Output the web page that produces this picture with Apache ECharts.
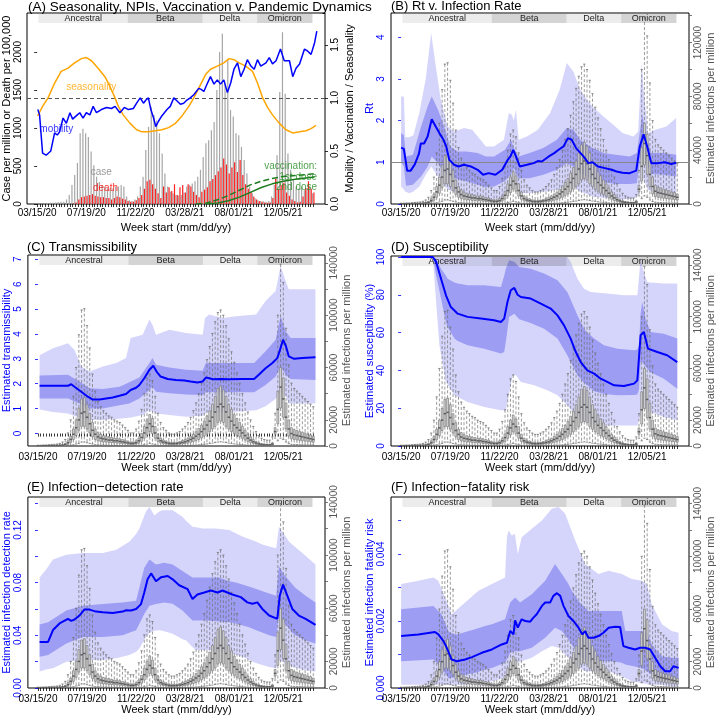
<!DOCTYPE html>
<html><head><meta charset="utf-8">
<script src="https://cdn.jsdelivr.net/npm/echarts@6/dist/echarts.min.js"></script>
<style>html,body{margin:0;padding:0;background:#fff}#c{width:717px;height:717px}</style>
</head><body><div id="c"></div>
<script>
const FONT = "'Liberation Sans', Arial, Helvetica, sans-serif";
const BLUE = '#0000ff';

// ---- x axis (weeks since 03/15/20) ----
const weeks = Array.from({length: 102}, (_, i) => i);
const tickWeeks = [0, 18, 36, 54, 72, 90];
const tickLabels = ['03/15/20', '07/19/20', '11/22/20', '03/28/21', '08/01/21', '12/05/21'];

// ---- variant periods ----
const variantNames = ['Ancestral', 'Beta', 'Delta', 'Omicron'];
const variantStart = [0.5, 33.2, 60.5, 80.5];
const variantEnd = [33.2, 60.5, 80.5, 100.7];

// ---- Panel A ----
const caseA = [5,8,10,10,12,15,18,20,25,30,
  30,60,120,250,380,540,930,990,930,880,
  690,510,360,290,250,230,205,215,205,230,
  230,250,230,100,50,40,60,100,230,360,
  710,1015,1280,1170,1100,930,665,400,230,160,
  140,120,110,120,150,230,250,270,300,360,
  450,620,800,840,970,1080,1500,2000,2240,1585,
  1890,1235,1150,930,905,750,580,400,230,140,
  75,50,40,35,30,40,100,250,640,1475,
  2260,1450,665,450,315,230,205,230,180,205,230,140];
const deathA = [0,0,0,0,0,0,0,0,0,0,
  0,0,0,5,20,60,90,100,110,120,
  130,110,100,90,90,80,80,60,80,100,
  90,70,60,40,30,30,50,80,120,200,
  300,320,260,200,140,80,230,150,220,170,
  260,120,220,250,150,260,230,160,120,90,
  160,190,220,300,330,380,430,480,600,520,
  400,480,550,420,580,380,260,200,160,100,
  60,40,30,20,15,20,80,330,200,250,
  280,150,110,60,40,20,30,100,210,300,200,150];
const mobility = [[0.25,0.89],[0.9,0.84],[2,0.48],[3.3,0.46],[5,0.5],[6.4,0.67],[7.4,0.65],[8.2,0.68],[9.5,0.81],[10.7,0.76],[12,0.86],[13,0.8],[14.7,0.84],[15.6,0.86],[16.8,0.81],[18,0.86],[19.3,0.84],[20.5,0.92],[21.7,0.86],[23.5,0.89],[25.4,0.91],[27.2,0.9],[28.5,0.92],[30.3,0.86],[31.9,0.91],[33.4,0.89],[35.2,0.9],[36.4,0.95],[37.7,1.0],[38.9,0.95],[39.8,0.98],[40.7,1.0],[41.6,0.89],[42.6,0.81],[43.4,0.73],[44.4,0.78],[45.6,0.83],[47.5,0.89],[48.7,0.92],[50,1.0],[51.2,0.97],[52.4,0.94],[53.6,0.95],[54.8,0.98],[56,1.0],[57.3,1.03],[59.1,1.09],[60,1.08],[61,1.06],[61.8,1.11],[63.4,1.2],[64.7,1.13],[65.9,1.17],[67.1,1.13],[68.3,1.17],[69.6,1.05],[70.8,1.14],[72,1.27],[73.3,1.33],[74.5,1.2],[75.7,1.27],[76.9,1.36],[78.2,1.3],[79.4,1.27],[80.6,1.36],[81.8,1.3],[83.7,1.33],[84.9,1.38],[86.1,1.32],[87.4,1.35],[89,1.46],[90.4,1.35],[92.3,1.35],[93.5,1.2],[94.7,1.28],[96,1.32],[97.8,1.46],[99,1.44],[100.2,1.41],[101.5,1.52],[102.3,1.63]];
const seasonality = [[0.2,0.83],[2,0.92],[4,1.0],[6.4,1.14],[8.8,1.25],[11.3,1.28],[13.7,1.33],[16.2,1.37],[18,1.38],[19.9,1.35],[22.3,1.28],[24.8,1.2],[26.6,1.11],[28.5,1.0],[29.7,0.92],[31.5,0.84],[34,0.76],[36.4,0.7],[38.3,0.68],[40.7,0.68],[43.2,0.69],[45.6,0.7],[48.1,0.72],[50.6,0.76],[53,0.83],[55.5,0.92],[57.3,1.0],[59.1,1.09],[61.6,1.22],[63.4,1.27],[65.9,1.3],[68.3,1.33],[70.2,1.37],[72,1.36],[73.9,1.33],[76.3,1.3],[78.8,1.25],[80.6,1.14],[82.5,1.0],[84.3,0.91],[86.1,0.84],[88.6,0.76],[91,0.7],[93.5,0.67],[96,0.68],[98.4,0.69],[100.2,0.71],[102,0.74]];
const vacDose1 = [[58,0],[62,0.01],[66,0.04],[70,0.08],[74,0.13],[78,0.18],[82,0.215],[86,0.24],[90,0.26],[95,0.27],[101.5,0.285]];
const vacDose2 = [[62,0],[66,0.01],[70,0.03],[74,0.065],[78,0.11],[82,0.155],[86,0.19],[90,0.215],[95,0.235],[101.5,0.255]];

// ---- estimated infections per million (thousands): boxplot stats per week ----
const infLo = [0,0,0,0,0,0,0,0,0,0.1, 0.1,0.2,0.5,1,1.5,2,3,3,2.5,2, 1.5,1,1,0.8,0.7,0.6,0.5,0.5,0.5,0.5, 0.4,0.4,0.3,0.3,0.2,0.2,0.3,0.4,0.7,1, 1.5,2,1.5,1,0.6,0.4,0.3,0.3,0.2,0.2, 0.2,0.2,0.3,0.3,0.3,0.4,0.5,0.6,0.8,0.9, 1.1,1.3,1.6,2,2.2,2.6,3,3.2,3,2.6, 2.2,2,1.6,1.4,1.2,1,0.8,0.6,0.5,0.3, 0.2,0.2,0.1,0.1,0.1,0.1,0.1,6,4,6, 5,3,1.8,1.3,1.2,1.1,1,1,0.9,0.8,0.8,0.7];
const infQ1 = [0.05,0.05,0.1,0.1,0.1,0.1,0.2,0.2,0.3,0.4, 0.6,1.3,2.8,5,8,12,15,15,13,10, 7,5,4,3.5,3,3,2.6,2.6,2.3,2.3, 2,1.8,1.6,1.3,1.1,1.1,1.4,2.2,3.6,6, 8.5,11,9.5,6,3.5,2.3,1.7,1.4,1.1,1, 1,1.1,1.3,1.5,1.8,2.2,2.8,3.4,4.2,5, 6.2,7.5,9,11,13,15,18,19,18,15, 13,11,9.5,8,7,5.8,4.6,3.5,2.6,1.8, 1.3,0.9,0.7,0.6,0.5,0.5,0.8,9,17,29, 22,13,7.5,5.5,5,4.6,4.3,4,3.7,3.5,3.2,2.9];
const infMed = [0.1,0.1,0.2,0.2,0.2,0.3,0.3,0.4,0.5,0.7, 1.2,2.5,5,9,14,20,25,26,22,17, 12,9,7,6,5.5,5,4.5,4.5,4,4, 3.5,3.2,2.8,2.3,2,2,2.5,4,6.5,10, 14,17,15,10,6,4,3,2.5,2,1.8, 1.8,2,2.3,2.7,3.2,4,5,6,7.5,9, 11,13,16,19,22,26,30,32,30,26, 22,19,16,14,12,10,8,6,4.5,3.2, 2.3,1.6,1.2,1,0.9,0.9,1.5,11,28,45, 36,22,13,9.5,8.5,8,7.5,7,6.5,6,5.5,5];
const infQ3 = [0.2,0.2,0.3,0.3,0.4,0.5,0.5,0.6,0.8,1.1, 1.9,4,7.5,13,20,29,36,37,32,25, 18,13,10.5,9,8,7.5,7,6.5,6,6, 5.5,5,4.5,3.6,3.2,3.2,4,6,9.5,15, 20,24,21,15,9,6,4.6,3.8,3.2,2.8, 2.8,3,3.5,4.2,5,6,7.5,9,11,13.5, 16,19,23,27,32,38,44,46,43,38, 32,28,24,21,18,15,12,9,7,5, 3.6,2.5,1.9,1.6,1.4,1.4,2.4,14,42,60, 52,33,20,14,12.5,12,11,10.5,10,9,8.5,7.5];
const infHi = [0.6,0.6,0.8,0.8,1,1.2,1.3,1.5,2,3, 5,10,20,38,60,85,104,105,92,75, 55,42,34,30,27,25,23,22,20,19, 18,16,14,12,10,10,13,19,28,40, 52,55,50,38,25,18,14,12,10,9, 9,10,11,13,15,18,22,27,33,40, 48,56,66,76,86,95,102,104,100,92, 82,72,64,56,48,40,33,26,20,15, 11,8,6,5,4.5,4.5,7,25,100,139, 125,90,62,48,44,42,40,38,36,34,32,30];

// ---- Panel B: Rt ----
const rtMed = [[0,1.35],[1,1.32],[2.2,0.8],[3.5,0.8],[5,0.95],[6.5,1.2],[7.2,1.45],[8.4,1.45],[9.7,1.62],[11.2,2.03],[12.7,1.85],[14,1.7],[15.5,1.54],[16.5,1.38],[17.6,1.06],[19.4,0.94],[21,0.9],[23,0.94],[25.5,0.9],[28,0.82],[30,0.7],[32,0.74],[34.5,0.7],[37,0.82],[39,1.06],[40,1.14],[41,1.3],[42,1.14],[43.4,0.9],[46,0.94],[48.5,0.98],[50,1.03],[51.5,1.02],[54,1.14],[56,1.22],[57.6,1.3],[59.4,1.38],[61,1.58],[62.4,1.54],[64,1.34],[66.7,1.14],[68.5,0.98],[70,1.0],[72,0.9],[74.5,0.86],[77,0.82],[78.8,0.78],[81,0.75],[83.6,0.74],[86,0.8],[87.3,1.38],[88.7,1.67],[90,1.38],[91.5,0.98],[94,0.98],[96.5,1.0],[98.8,0.96],[100.6,0.99]];
const rt95 = [[0,0.42,2.58],[1,0.35,2.58],[1.5,0.3,1.6],[3,0.26,1.6],[4.5,0.3,1.65],[6.7,0.42,2.2],[9,0.7,3.0],[11,0.9,4.1],[12.7,0.74,3.3],[14.5,0.55,2.5],[17,0.35,1.86],[19.4,0.28,1.74],[23,0.18,1.82],[26,0.14,1.78],[29,0.1,1.54],[31,0.1,1.38],[34,0.1,1.38],[37.6,0.14,1.54],[39.4,0.3,2.18],[40.5,0.38,2.14],[41.2,0.44,2.0],[42,0.46,2.26],[43,0.26,1.54],[46,0.26,1.62],[50,0.28,1.78],[54.5,0.31,2.18],[58,0.36,2.74],[60.6,0.46,3.38],[63,0.42,3.18],[65.5,0.3,2.74],[68,0.24,2.5],[70,0.18,2.34],[74,0.15,2.1],[77.6,0.13,1.9],[81,0.11,1.7],[85,0.13,1.62],[86.7,0.2,1.74],[88,0.66,3.38],[88.7,0.6,2.74],[90.3,0.34,1.7],[93,0.24,1.78],[97,0.2,1.86],[100.6,0.18,2.06]];
const rt50 = [[0,1.0,1.7],[1,0.9,1.65],[1.8,0.44,1.14],[4.3,0.46,1.18],[7.3,0.66,1.86],[9.7,0.9,2.34],[11.2,1.14,2.58],[13.5,0.98,2.26],[15.7,0.74,1.86],[18,0.66,1.38],[20.5,0.6,1.26],[24,0.54,1.26],[28,0.46,1.22],[31,0.4,1.14],[34,0.42,1.14],[38,0.55,1.3],[40.2,0.72,1.54],[41.2,0.86,1.34],[43,0.62,1.14],[47,0.62,1.22],[52,0.7,1.34],[57,0.82,1.54],[60.6,0.98,1.82],[63,0.9,1.78],[65.5,0.74,1.54],[69,0.62,1.38],[74,0.52,1.22],[78.5,0.48,1.18],[83.6,0.48,1.14],[86.2,0.5,1.22],[88.2,1.38,2.14],[89.5,1.0,1.7],[91.5,0.72,1.22],[96,0.7,1.22],[100.6,0.66,1.18]];

// ---- Panel C: transmissibility ----
const trMed = [[0.6,1.92],[11,1.92],[12.2,1.98],[13.4,1.88],[15.9,1.68],[18.3,1.48],[20,1.37],[22.6,1.37],[25,1.41],[27.4,1.45],[29.9,1.52],[32.3,1.59],[34,1.75],[36,1.84],[37.2,1.95],[39,2.22],[40.9,2.56],[42.3,2.72],[43.5,2.49],[45,2.29],[47.6,2.19],[50.6,2.15],[53.7,2.13],[56,2.09],[58.5,2.05],[60.4,2.09],[61.6,2.25],[62.8,2.22],[64.3,2.18],[67,2.19],[70,2.18],[75,2.19],[79.3,2.19],[81,2.36],[83.5,2.62],[86,2.83],[87.8,3.03],[88.8,3.36],[89.9,3.77],[91,3.5],[92,3.1],[94,3.0],[97,3.03],[101.8,3.06]];
const tr95 = [[0.6,0.97,3.14],[5.5,0.87,3.43],[11,0.81,3.63],[13.4,0.7,3.36],[15.9,0.6,2.69],[18.9,0.54,2.49],[23.8,0.54,2.69],[28.7,0.58,2.83],[32.3,0.62,3.03],[34,0.64,3.84],[38.4,0.74,3.97],[40.9,0.94,4.58],[42,0.9,4.37],[43.3,0.81,3.97],[48.2,0.74,4.17],[54.3,0.67,4.04],[60.4,0.71,3.97],[61.3,0.8,4.64],[62.8,0.85,4.78],[67.7,0.86,4.64],[72.6,0.88,4.71],[80,0.94,4.78],[83.5,1.1,5.32],[87.2,1.4,5.72],[89,1.68,6.73],[90.9,1.5,6.12],[92,1.21,5.79],[97,1.21,5.79],[101.8,1.21,5.79]];
const tr50 = [[0.6,1.41,2.33],[11,1.41,2.36],[15.2,1.21,2.09],[18.9,1.01,1.82],[23.8,1.01,1.79],[29.9,1.14,1.88],[33.5,1.21,2.06],[37.2,1.41,2.25],[40.9,1.75,2.83],[42,1.88,3.03],[43.3,1.68,2.76],[48.2,1.62,2.65],[54.3,1.57,2.56],[60.4,1.55,2.52],[61.6,1.66,2.83],[70,1.66,2.83],[79.3,1.66,2.83],[83.5,1.95,3.3],[87.2,2.29,3.77],[89,2.69,4.71],[90.9,2.36,4.1],[92.7,2.19,3.84],[101.8,2.15,3.84]];

// ---- Panel D: susceptibility ----
const suMed = [[0,100],[11.6,100],[12.8,97.4],[14.6,88.5],[16.4,79.7],[18.2,73.5],[20.7,70],[24.3,68.3],[29.2,67.4],[34,66.5],[36.5,65.6],[37.7,67.4],[38.9,76.2],[40.1,82.4],[41.4,83.6],[42.6,80],[43.8,78.8],[47.4,78],[51.1,75.3],[54.7,72.7],[57.2,69.1],[59.6,63.8],[62,56.8],[63.9,49.7],[65.7,44.4],[68.1,40],[70.6,38.3],[73,35.6],[75.4,33.9],[77.9,32.1],[81.5,31.7],[85.2,33],[86.4,34.7],[87.6,58.6],[88.8,60.3],[90.3,51.5],[93.7,49.7],[97.3,48],[101,44.4]];
const su95 = [[0,100,100],[11.6,100,100],[12.8,76.2,100],[14,53.3,100],[16.4,33.9,100],[19.5,26.8,100],[24.3,23.3,100],[30.4,20.6,100],[36.5,18.9,100],[38.3,18.9,100],[40.8,37.4,100],[42,37.4,100],[43.8,33.9,100],[48.7,32.1,100],[53.5,29.5,100],[57.2,26.8,100],[60.8,21.5,100],[62,19.5,97.4],[64.5,15.3,88.5],[66.9,13,83.2],[69.3,11.8,81.5],[75.4,10.9,80.6],[81.5,10.9,79.7],[86.4,10.9,79.7],[87.6,16.2,99],[88.8,20.6,92],[90,19,86.8],[91.2,18,86.5],[96.1,15.3,86],[101,13.6,85.9]];
const su50 = [[0,100,100],[11.6,100,100],[12.8,90.3,99],[14.6,78,93.8],[16.4,65.6,90],[17,63,88.5],[19.5,56.8,86.5],[20.7,55.5,85.9],[24.3,53.3,85],[30.4,51.5,85],[36.5,48.9,84.1],[37.7,49.7,90],[38.3,55,93.8],[39.5,68.3,98.2],[41.4,70,97.4],[43.2,67,94.7],[47.4,65,93.8],[52.3,62,91.2],[57.2,56.8,87.7],[60.8,48,81.5],[64.5,37.4,69.1],[66.9,33.5,62.1],[68.1,32.1,60],[70.6,29,56.8],[74.2,27.5,53.3],[79.1,26.8,51.5],[85.2,27,50.6],[86.4,27.2,51],[87,30,53.3],[87.6,44.4,70],[88.2,44.4,76.2],[89.4,42,67.4],[91.2,39,60.3],[96.1,35.6,59.4],[101,30.3,56.8]];

// ---- Panel E: infection-detection rate ----
const idMed = [[0.6,0.035],[3.7,0.035],[5.5,0.044],[7.9,0.049],[11,0.0525],[12.2,0.051],[13.4,0.052],[15.2,0.055],[17,0.0595],[18.9,0.0595],[21.3,0.058],[23.8,0.0575],[27.4,0.057],[31.1,0.058],[32.3,0.059],[34.1,0.0588],[36,0.06],[37.8,0.0637],[39,0.0725],[40.2,0.0825],[41.5,0.087],[43.3,0.081],[45.1,0.084],[47.6,0.085],[49.4,0.0825],[51.8,0.078],[54.9,0.075],[56.7,0.0675],[58.5,0.071],[61,0.0725],[63.4,0.074],[65.9,0.0725],[67.7,0.074],[71.3,0.071],[74.4,0.069],[76.8,0.065],[78.7,0.064],[80.5,0.065],[82.3,0.06],[84.8,0.055],[87.8,0.0525],[88.7,0.07],[89.9,0.0785],[91.5,0.07],[93.3,0.06],[95.7,0.055],[98.2,0.0525],[101.8,0.048]];
const id95 = [[0.6,0.0125,0.0838],[3,0.014,0.09],[5.5,0.015,0.0975],[10.4,0.02,0.1012],[16.5,0.0212,0.1025],[23.8,0.0212,0.1025],[28.7,0.0225,0.105],[33.5,0.025,0.111],[36,0.0275,0.117],[37.2,0.03,0.121],[39.6,0.0388,0.134],[40.9,0.042,0.1375],[42.7,0.0435,0.131],[44.5,0.0438,0.134],[45.7,0.0435,0.135],[49.4,0.0412,0.135],[53,0.037,0.13],[54.3,0.0362,0.127],[56.7,0.031,0.1225],[58,0.0288,0.122],[60.4,0.0288,0.121],[65.2,0.028,0.121],[67.7,0.0275,0.1205],[70.1,0.027,0.12],[75,0.0238,0.115],[79.9,0.019,0.1112],[82.3,0.0175,0.109],[84.8,0.016,0.1075],[87.4,0.015,0.106],[88.4,0.021,0.1225],[89.6,0.02,0.1187],[90.9,0.0188,0.115],[92.1,0.017,0.111],[97,0.0138,0.1025],[101.8,0.0125,0.0938]];
const id50 = [[0.6,0.0238,0.0482],[3.7,0.025,0.05],[10.4,0.0338,0.0588],[16.5,0.0388,0.0625],[23.8,0.0388,0.0637],[31,0.04,0.065],[36,0.0438,0.0662],[39,0.0562,0.0912],[40.9,0.0625,0.0975],[43.3,0.0637,0.0938],[46.3,0.065,0.095],[49.4,0.064,0.0938],[53,0.0588,0.0888],[56.7,0.0512,0.0838],[61.6,0.0512,0.0838],[66.5,0.0505,0.0838],[70.1,0.05,0.081],[72.6,0.049,0.08],[77.4,0.0462,0.077],[78.7,0.045,0.0762],[84.8,0.04,0.0718],[87.4,0.0388,0.07],[88.4,0.055,0.0925],[90.2,0.05,0.0862],[93.3,0.042,0.0788],[94.5,0.04,0.076],[98.2,0.036,0.07],[101.8,0.0338,0.065]];

// ---- Panel F: infection-fatality risk ----
const ifMed = [[0,0.00155],[6.3,0.0016],[12.4,0.00167],[13.6,0.0016],[15.5,0.0014],[16.7,0.0012],[18.5,0.00085],[20.4,0.0008],[23.4,0.00085],[25.9,0.00092],[29.5,0.00105],[33.2,0.00115],[36.8,0.0013],[38.7,0.00135],[39.9,0.0017],[41.1,0.0016],[41.7,0.00202],[42.7,0.0018],[43.5,0.00195],[44.1,0.00205],[45.4,0.002],[47.2,0.00198],[48.4,0.0021],[49.6,0.0022],[51.5,0.00245],[52.7,0.00255],[54.5,0.00255],[55.7,0.00275],[57,0.00283],[58.2,0.00275],[59.4,0.00245],[61.2,0.00215],[63,0.002],[64.9,0.0018],[66.3,0.0016],[67.3,0.0017],[68.5,0.0015],[70.4,0.0015],[72.2,0.00155],[74,0.00165],[75.9,0.0018],[78.3,0.00183],[80.1,0.00182],[81.3,0.00125],[83.2,0.0012],[85.6,0.00115],[87.4,0.0012],[89.3,0.0012],[91.1,0.00115],[92.9,0.0009],[94.8,0.00065],[96.6,0.0005],[98.4,0.0005],[99.6,0.00065],[101.5,0.0006]];
const if95 = [[0,0.0001,0.0031],[6.3,0.0001,0.0032],[11.8,0.0001,0.0033],[13.6,0.0001,0.0032],[16.1,0.0001,0.0027],[18.5,0.0001,0.0022],[23.4,0.0001,0.00255],[28.3,0.00015,0.0029],[33.2,0.0002,0.0031],[38,0.0003,0.0033],[38.7,0.0004,0.0045],[39.3,0.0005,0.0047],[40.5,0.0009,0.00455],[41.6,0.0008,0.0046],[42.7,0.00075,0.004],[44.1,0.0008,0.0045],[47.8,0.0009,0.00475],[51.5,0.0011,0.005],[55.1,0.00125,0.00535],[57.6,0.0012,0.0054],[60,0.001,0.0052],[63.7,0.0007,0.0044],[67.3,0.0005,0.0037],[72.2,0.0005,0.0034],[75.9,0.0005,0.0035],[80.7,0.00035,0.0034],[84.4,0.0002,0.00325],[88,0.00015,0.0032],[89.9,0.00012,0.0031],[91.7,0.0001,0.0025],[95.4,0.0001,0.0019],[99,0.00005,0.0017],[101.5,0.00005,0.00165]];
const if50 = [[0,0.0008,0.00235],[11.8,0.00085,0.00245],[14.8,0.0006,0.0022],[17.3,0.0003,0.0017],[17.9,0.0003,0.00165],[20.4,0.00035,0.0016],[27,0.00045,0.00175],[30.7,0.00055,0.00185],[33.2,0.0006,0.0019],[38,0.00075,0.00205],[39.9,0.00105,0.00255],[41.7,0.0011,0.0027],[43.5,0.0011,0.00255],[47.8,0.0012,0.0028],[52.7,0.0015,0.0032],[56.3,0.0018,0.0037],[58.8,0.0017,0.0034],[61.2,0.00145,0.0031],[62.4,0.0013,0.0029],[64.9,0.001,0.0026],[66,0.0009,0.0025],[68.5,0.0008,0.0023],[77.1,0.0008,0.0023],[80.7,0.00075,0.0023],[82,0.0007,0.0017],[88,0.0006,0.0017],[89.9,0.0005,0.00165],[91.7,0.0004,0.0013],[95.4,0.0002,0.00095],[99,0.00025,0.0009],[101.5,0.00025,0.0009]];

// ---- axis tick values ----
const rightTicks = [0,20000,40000,60000,80000,100000,120000,140000];
const rightLabelsB = [0,40000,80000,120000];
const rightLabelsCF = [0,20000,60000,100000,140000];

// ================= layout / building =================
const grids = [
  {left:27, top:13, width:298, height:191},
  {left:391, top:13, width:298, height:191},
  {left:27, top:255, width:298, height:191},
  {left:391, top:256, width:298, height:190},
  {left:27, top:497, width:298, height:191},
  {left:391, top:497, width:298, height:191}
];
const LIGHT = '#d5d5fc', DARK = '#9d9df4';

function xAxisFor(i) {
  const row = Math.floor(i / 2);
  return {
    type: 'value', gridIndex: i, min: -3.7, max: 105.3,
    axisLine: {show: false}, splitLine: {show: false},
    axisTick: {show: true, customValues: weeks, length: 3, lineStyle: {color: '#000', width: 0.8}},
    axisLabel: {customValues: tickWeeks, fontSize: 10, color: '#000', fontFamily: FONT, margin: [4, 6, 6][row],
      formatter: v => { const k = tickWeeks.indexOf(Math.round(v)); return k >= 0 ? tickLabels[k] : ''; }},
    name: 'Week start (mm/dd/yy)', nameLocation: 'middle', nameGap: [18, 13, 16][row],
    nameTextStyle: {fontSize: 11, color: '#000', fontFamily: FONT}
  };
}
function yAxisFor(i, pos, c) {
  return {
    type: 'value', gridIndex: i, position: pos, min: c.min, max: c.max,
    axisLine: {show: false}, splitLine: {show: false},
    axisTick: {show: true, customValues: c.ticks, length: 3, lineStyle: {color: c.tick || '#000', width: 0.8}},
    axisLabel: {customValues: c.labels, rotate: 90, fontSize: 10, color: c.color, margin: c.margin, fontFamily: FONT,
      formatter: c.fmt || (v => String(v))},
    name: c.name, nameLocation: 'middle', nameRotate: 90, nameGap: c.gap,
    nameTextStyle: {fontSize: 11, color: c.color, fontFamily: FONT}
  };
}
const rightCfg = (max, labels) => ({min: 0, max, ticks: rightTicks, labels, color: '#555', tick: '#555',
  name: 'Estimated infections per million', margin: 4, gap: 16, fmt: v => String(Math.round(v))});
const yAxes = [
  yAxisFor(0, 'left', {min:0, max:2513, ticks:[0,500,1000,1500,2000], labels:[0,500,1000,1500,2000], color:'#000', name:'Case per million or Death per 100,000', margin:4, gap:14}),
  yAxisFor(0, 'right', {min:0, max:1.8, ticks:[0,0.5,1,1.5], labels:[0,0.5,1,1.5], color:'#000', name:'Mobility / Vaccination / Seasonality', margin:5, gap:19, fmt:v=>v.toFixed(1)}),
  yAxisFor(1, 'left', {min:0, max:4.58, ticks:[0,1,2,3,4], labels:[0,1,2,3,4], color:BLUE, tick:BLUE, name:'Rt', margin:5, gap:14}),
  yAxisFor(1, 'right', rightCfg(142000, rightLabelsB)),
  yAxisFor(2, 'left', {min:-0.5, max:7.17, ticks:[0,1,2,3,4,5,6,7], labels:[0,1,2,3,4,5,6,7], color:BLUE, tick:BLUE, name:'Estimated transmissibility', margin:5, gap:14}),
  yAxisFor(2, 'right', rightCfg(146000, rightLabelsCF)),
  yAxisFor(3, 'left', {min:0, max:100.5, ticks:[0,20,40,60,80,100], labels:[0,20,40,60,80,100], color:BLUE, tick:BLUE, name:'Estimated susceptibility (%)', margin:5, gap:14}),
  yAxisFor(3, 'right', rightCfg(147000, rightLabelsCF)),
  yAxisFor(4, 'left', {min:0, max:0.145, ticks:[0,0.02,0.04,0.06,0.08,0.1,0.12,0.14], labels:[0,0.04,0.08,0.12], color:BLUE, tick:BLUE, name:'Estimated infection detection rate', margin:5, gap:14, fmt:v=>v.toFixed(2)}),
  yAxisFor(4, 'right', rightCfg(143700, rightLabelsCF)),
  yAxisFor(5, 'left', {min:0, max:0.0057, ticks:[0,0.001,0.002,0.003,0.004,0.005], labels:[0,0.002,0.004], color:BLUE, tick:BLUE, name:'Estimated infection fatality risk', margin:5, gap:14, fmt:v=>v.toFixed(3)}),
  yAxisFor(5, 'right', rightCfg(145000, rightLabelsCF))
];

function variantSeries(i) {
  return {
    type: 'custom', xAxisIndex: i, yAxisIndex: 2 * i, silent: true, z: 4,
    data: variantNames.map((n, k) => [variantStart[k], variantEnd[k]]), encode: {x: [0, 1]},
    renderItem(params, api) {
      const x0 = api.coord([api.value(0), 0])[0], x1 = api.coord([api.value(1), 0])[0];
      const y = params.coordSys.y + 1, h = 9;
      const k = params.dataIndex;
      return {type: 'group', children: [
        {type: 'rect', shape: {x: x0, y, width: x1 - x0, height: h}, style: {fill: k % 2 ? 'rgba(60,60,60,0.22)' : 'rgba(120,120,120,0.14)'}},
        {type: 'text', style: {text: variantNames[k], x: (x0 + x1) / 2, y: y + h / 2 + 0.5, align: 'center', verticalAlign: 'middle', fontSize: 9, fill: '#222', fontFamily: FONT}}
      ]};
    }
  };
}
function bandSeries(i, pts, color, z) {
  return {
    type: 'custom', xAxisIndex: i, yAxisIndex: 2 * i, silent: true, z, clip: true,
    data: pts, encode: {x: 0, y: [1, 2]},
    renderItem(params, api) {
      if (params.dataIndex !== 0) return null;
      const up = pts.map(p => api.coord([p[0], p[2]]));
      const lo = pts.slice().reverse().map(p => api.coord([p[0], p[1]]));
      return {type: 'polygon', shape: {points: up.concat(lo)}, style: {fill: color}};
    }
  };
}
function boxSeries(i) {
  return {
    type: 'custom', xAxisIndex: i, yAxisIndex: 2 * i + 1, silent: true, z: 5, clip: true,
    data: weeks.map(w => [w, infLo[w] * 1000, infQ1[w] * 1000, infMed[w] * 1000, infQ3[w] * 1000, infHi[w] * 1000]),
    encode: {x: 0, y: [1, 2, 3, 4, 5]},
    renderItem(params, api) {
      const w = api.value(0);
      const x = api.coord([w, 0])[0];
      const yy = k => api.coord([w, api.value(k)])[1];
      const yLo = yy(1), yQ1 = yy(2), yMed = yy(3), yQ3 = yy(4), yHi = yy(5);
      const hb = 0.9, hc = 1.1;
      const dash = {stroke: '#707070', lineWidth: 0.7, lineDash: [3, 2]};
      const solid = {stroke: '#707070', lineWidth: 0.8};
      return {type: 'group', children: [
        {type: 'line', shape: {x1: x, y1: yHi, x2: x, y2: yQ3}, style: dash},
        {type: 'line', shape: {x1: x, y1: yQ1, x2: x, y2: yLo}, style: dash},
        {type: 'line', shape: {x1: x - hc, y1: yHi, x2: x + hc, y2: yHi}, style: solid},
        {type: 'line', shape: {x1: x - hc, y1: yLo, x2: x + hc, y2: yLo}, style: solid},
        {type: 'rect', shape: {x: x - hb, y: yQ3, width: 2 * hb, height: Math.max(yQ1 - yQ3, 0.5)}, style: {fill: '#dcdcdc', stroke: '#777', lineWidth: 0.7}},
        {type: 'line', shape: {x1: x - hb - 0.3, y1: yMed, x2: x + hb + 0.3, y2: yMed}, style: {stroke: '#5c5c5c', lineWidth: 1.5}}
      ]};
    }
  };
}
function medianSeries(i, pts, extra) {
  return Object.assign({
    type: 'line', xAxisIndex: i, yAxisIndex: 2 * i, data: pts, symbol: 'none', silent: true, z: 6,
    lineStyle: {color: BLUE, width: 2}
  }, extra || {});
}

const series = [];
for (let i = 0; i < 6; i++) series.push(variantSeries(i));

// Panel A
series.push({type: 'bar', xAxisIndex: 0, yAxisIndex: 0, data: weeks.map(w => [w, caseA[w]]), barWidth: 1.2, barGap: '15%', itemStyle: {color: '#a6a6a6'}, silent: true, z: 2});
series.push({type: 'bar', xAxisIndex: 0, yAxisIndex: 0, data: weeks.map(w => [w, deathA[w]]), barWidth: 1.2, barGap: '15%', itemStyle: {color: '#ff1f1f'}, silent: true, z: 2});
series.push({type: 'line', xAxisIndex: 0, yAxisIndex: 1, data: seasonality, symbol: 'none', silent: true, z: 5, lineStyle: {color: '#ffa500', width: 1.5},
  markLine: {silent: true, symbol: 'none', data: [{yAxis: 1}], label: {show: false}, lineStyle: {color: '#555', type: [4, 3], width: 1}}});
series.push({type: 'line', xAxisIndex: 0, yAxisIndex: 1, data: mobility, symbol: 'none', silent: true, z: 5, lineStyle: {color: BLUE, width: 1.5}});
series.push({type: 'line', xAxisIndex: 0, yAxisIndex: 1, data: vacDose1, symbol: 'none', silent: true, z: 5, lineStyle: {color: '#1e7b1e', width: 1.5, type: [6, 3]}});
series.push({type: 'line', xAxisIndex: 0, yAxisIndex: 1, data: vacDose2, symbol: 'none', silent: true, z: 5, lineStyle: {color: '#1e7b1e', width: 1.5}});
const txt = (v, t, color, pos) => ({value: v, label: {show: true, formatter: t, color, fontSize: 10, fontFamily: FONT, position: pos || 'inside', distance: 0}});
series.push({type: 'scatter', xAxisIndex: 0, yAxisIndex: 0, symbolSize: 0, silent: true, z: 7,
  data: [txt([23.5, 421], 'case', '#7f7f7f'), txt([25, 210], 'death', '#ff0000')]});
series.push({type: 'scatter', xAxisIndex: 0, yAxisIndex: 1, symbolSize: 0, silent: true, z: 7,
  data: [txt([19.8, 1.10], 'seasonality', '#ffa500'), txt([7.0, 0.70], 'mobility', BLUE),
         txt([102.4, 0.36], 'vaccination:', '#228b22', 'left'), txt([102.4, 0.255], '1st dose', '#228b22', 'left'),
         txt([102.4, 0.16], '2nd dose', '#228b22', 'left')]});

// Panels B-F
const panelData = [
  [1, rt95, rt50, rtMed],
  [2, tr95, tr50, trMed],
  [3, su95, su50, suMed],
  [4, id95, id50, idMed],
  [5, if95, if50, ifMed]
];
panelData.forEach(([i, b95, b50, med]) => {
  series.push(bandSeries(i, b95, LIGHT, 2));
  series.push(bandSeries(i, b50, DARK, 3));
  series.push(boxSeries(i));
  series.push(medianSeries(i, med, i === 1 ? {markLine: {silent: true, symbol: 'none', data: [{yAxis: 1}], label: {show: false}, lineStyle: {color: '#888', type: 'solid', width: 1}}} : {}));
});

const tStyle = {fontSize: 13, fontWeight: 'normal', color: '#000', fontFamily: FONT};
const titles = [
  ['(A) Seasonality, NPIs, Vaccination v. Pandemic Dynamics', 28, 0, 13.5],
  ['(B) Rt v. Infection Rate', 391, 0, 13],
  ['(C) Transmissibility', 27, 241, 13],
  ['(D) Susceptibility', 391, 241, 13],
  ['(E) Infection\u2212detection rate', 27, 481, 13],
  ['(F) Infection\u2212fatality risk', 391, 481, 13]
].map(([text, left, top, fs]) => ({text, left, top, padding: 0, textStyle: Object.assign({}, tStyle, {fontSize: fs})}));

const chart = echarts.init(document.getElementById('c'), null, {renderer: 'canvas'});
chart.setOption({
  animation: false,
  backgroundColor: '#fff',
  textStyle: {fontFamily: FONT},
  title: titles,
  grid: grids.map(g => Object.assign({show: true, borderColor: '#000', borderWidth: 1, backgroundColor: 'transparent'}, g)),
  xAxis: [0, 1, 2, 3, 4, 5].map(xAxisFor),
  yAxis: yAxes,
  series
});
</script></body></html>
